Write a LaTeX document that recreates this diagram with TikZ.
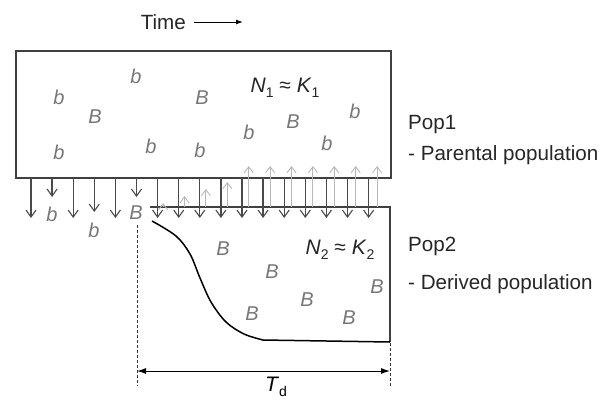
\documentclass[tikz,border=0pt]{standalone}
\usepackage{fontspec}
\setmainfont{Liberation Sans}
\usetikzlibrary{arrows.meta}
\definecolor{boxline}{HTML}{404040}
\definecolor{letter}{HTML}{777777}
\definecolor{uparr}{HTML}{B8B8B8}
\definecolor{dnarr}{HTML}{4A4A4A}
\newcommand\lowsub[1]{\raisebox{-0.45ex}{\fontsize{14}{14}\selectfont #1}}
\tikzset{
  boxedge/.style={draw=boxline, line width=1.8pt},
  allele/.style={text=letter, font=\fontsize{20}{24}\selectfont\itshape, inner sep=0pt},
  sidelabel/.style={text=black!85, font=\fontsize{20.6}{25}\selectfont, inner sep=0pt, anchor=west},
  downarrow/.style={draw=dnarr, line width=1.3pt, -{Straight Barb[length=7pt,width=10pt,line width=1.1pt]}},
  uparrow/.style={draw=uparr, line width=1.1pt, -{Straight Barb[length=6pt,width=9pt,line width=0.9pt]}},
  guide/.style={draw=black!80, line width=1pt, dash pattern=on 3pt off 2pt},
}
\begin{document}
\begin{tikzpicture}[x=1pt,y=-1pt]
\useasboundingbox (0,0) rectangle (613,402);
% Time arrow
\node[sidelabel, anchor=east] (time) at (186,22) {Time};
\coordinate (tA) at (194,22);
\coordinate (tB) at (243,22);
\draw[line width=1pt, -{Latex[length=7pt,width=5pt]}] (tA) -- (tB);
% top box
\draw[boxedge] (16,51) rectangle (391,178);
% bottom box (top and right edge)
\draw[boxedge] (150,207) -- (390,207) -- (390,342);
% gray up arrows
\foreach \k/\e in {0/203,1/196,2/189,3/182,4/166,5/166,6/166,7/166,8/166,9/166,10/166}{
  \draw[uparrow] ({163.1+21.4*\k},207) -- ({163.1+21.4*\k},\e);
}
% dark down arrows
\foreach \i in {0,...,16}{
  \pgfmathsetmacro\e{ifthenelse(\i==1||\i==5,197,ifthenelse(\i==3,212,218))}
  \draw[downarrow] ({31+21.1*\i},178) -- ({31+21.1*\i},\e);
}
% curve
\draw[line width=1.5pt, black] plot[smooth, tension=0.55] coordinates {(152,221) (176,236) (190,254) (200,278) (211,302) (226,322) (244,334) (263,340)} -- (390,342);
% guides
\coordinate (gL1) at (137,225);
\coordinate (gL2) at (137,386);
\coordinate (gR1) at (390,343);
\coordinate (gR2) at (390,386);
\draw[guide] (gL1) -- (gL2);
\draw[guide] (gR1) -- (gR2);
\coordinate (dL) at (137,371);
\coordinate (dR) at (390,371);
\draw[line width=1pt, {Latex[length=9pt,width=6pt]}-{Latex[length=9pt,width=6pt]}] (dL) -- (dR);
\node[font=\fontsize{21}{24}\selectfont, inner sep=0pt] (td) at (276,387) {\textit{T}\lowsub{d}};
% top box letters
\node[allele] (a1) at (136,76) {b};
\node[allele] (a2) at (59,97) {b};
\node[allele] (a3) at (95,117) {B};
\node[allele] (a4) at (202,98) {B};
\node[allele] (a5) at (59,152) {b};
\node[allele] (a6) at (151,146) {b};
\node[allele] (a7) at (200,150) {b};
\node[allele] (a8) at (355,111) {b};
\node[allele] (a9) at (293,122) {B};
\node[allele] (a10) at (249,132) {b};
\node[allele] (a11) at (327,143) {b};
\node[font=\fontsize{21}{24}\selectfont, text=black!85, inner sep=0pt] (n1) at (285,88) {\textit{N}\lowsub{1} ≈ \textit{K}\lowsub{1}};
% migrants
\node[allele] (m1) at (52,214) {b};
\node[allele] (m2) at (94,230) {b};
\node[allele] (m3) at (136,213) {B};
% bottom box letters
\node[allele] (c1) at (223,249) {B};
\node[allele] (c2) at (272,272) {B};
\node[allele] (c3) at (377,287) {B};
\node[allele] (c4) at (307,300) {B};
\node[allele] (c5) at (252,314) {B};
\node[allele] (c6) at (349,318) {B};
\node[font=\fontsize{21}{24}\selectfont, text=black!85, inner sep=0pt] (n2) at (340,250) {\textit{N}\lowsub{2} ≈ \textit{K}\lowsub{2}};
% side labels
\node[sidelabel] (p1) at (408,125) {Pop1};
\node[sidelabel] (p1d) at (408,155) {- Parental population};
\node[sidelabel] (p2) at (408,246) {Pop2};
\node[sidelabel] (p2d) at (408,284) {- Derived population};
\end{tikzpicture}
\end{document}
